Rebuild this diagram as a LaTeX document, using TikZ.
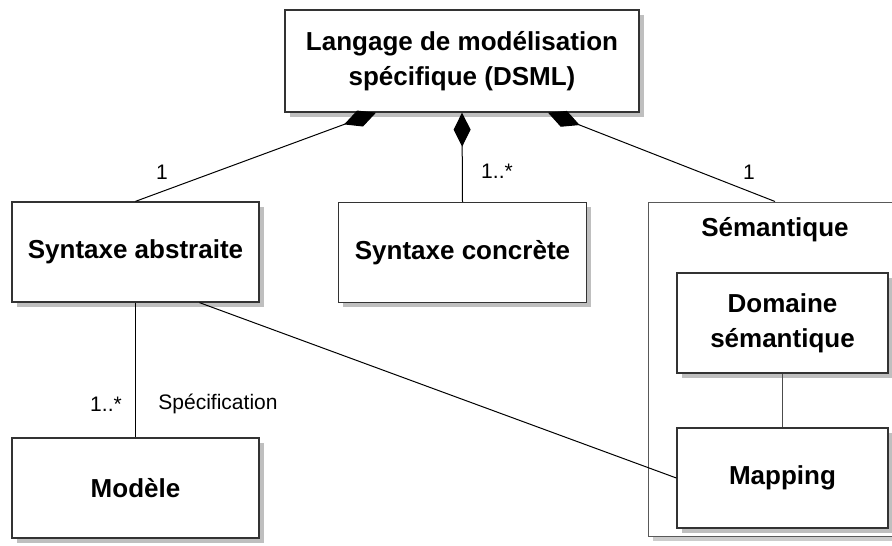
\documentclass[tikz,border=0pt]{standalone}
\usepackage{fontspec}
\setmainfont{Liberation Sans}
\usetikzlibrary{arrows.meta,shadows}
\tikzset{
  box/.style={draw=black!80, line width=1.3pt, fill=white, inner sep=0pt, align=center,
    font=\fontsize{26}{35}\selectfont\bfseries,
    drop shadow={shadow xshift=4.5pt, shadow yshift=-4.5pt, fill=black!25, opacity=1}},
  cont/.style={draw=black!65, line width=1pt, fill=white, inner sep=0pt,
    drop shadow={shadow xshift=4.5pt, shadow yshift=-4.5pt, fill=black!20, opacity=1}},
  link/.style={draw=black, line width=1pt},
  comp/.style={link, -{Diamond[length=34pt,width=17pt,fill=black]}},
  lbl/.style={font=\fontsize{21}{25}\selectfont, inner sep=0pt},
}
\begin{document}
\begin{tikzpicture}[x=1pt,y=-1pt]
\useasboundingbox (0,0) rectangle (892,546);
% container
\node[cont, minimum width=254pt, minimum height=334pt] (sem) at (775,369) {};
\node[font=\fontsize{26}{35}\selectfont\bfseries, inner sep=0pt] (semt) at (775,230) {Sémantique};
% boxes
\node[box, minimum width=354pt, minimum height=102pt] (dsml) at (462,61) {Langage de modélisation\\spécifique (DSML)};
\node[box, minimum width=247pt, minimum height=100pt] (sa) at (135.5,252) {Syntaxe abstraite};
\node[box, minimum width=248pt, minimum height=100pt] (sc) at (462.5,252.5) {Syntaxe concrète};
\node[box, minimum width=211pt, minimum height=100pt] (dom) at (782.5,323) {Domaine\\sémantique};
\node[box, minimum width=211pt, minimum height=100pt] (map) at (782.5,478) {Mapping};
\node[box, minimum width=247pt, minimum height=100pt] (mod) at (135.5,488) {Modèle};
% attachment points
\coordinate (dl) at ([xshift=-86pt]dsml.south);
\coordinate (dr) at ([xshift=86pt]dsml.south);
\coordinate (sab) at ([xshift=64pt]sa.south);
% connectors
\draw[comp] (sa.north) -- (dl);
\draw[comp] (sc.north) -- (dsml.south);
\draw[comp] (sem.north) -- (dr);
\draw[link] (sa.south) -- (mod.north);
\draw[link] (sab) -- (map.west);
\draw[link, draw=black!70] (dom.south) -- (map.north);
% labels
\node[lbl] (l1) at (162,172) {1};
\node[lbl] (l2) at (497,171) {1..*};
\node[lbl] (l3) at (749,172) {1};
\node[lbl] (l4) at (106,404) {1..*};
\node[lbl] (l5) at (218,404) {Spécification};
\end{tikzpicture}
\end{document}
